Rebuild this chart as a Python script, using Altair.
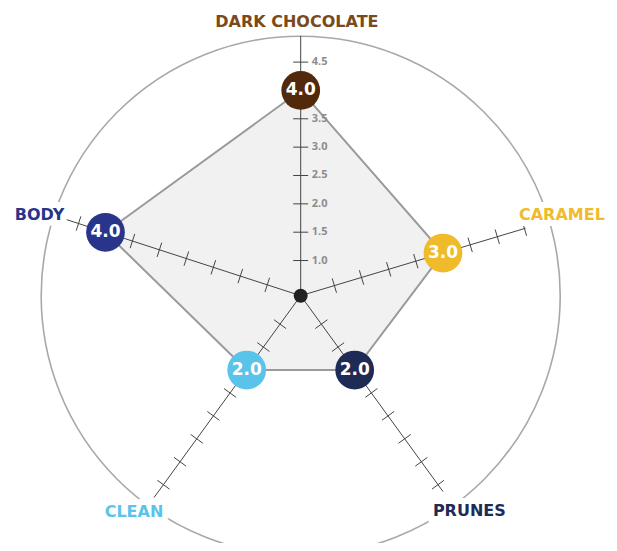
import math
import altair as alt
import pandas as pd

# ---- data ----
attributes = ["DARK CHOCOLATE", "CARAMEL", "PRUNES", "CLEAN", "BODY"]
scores = [4.0, 3.0, 2.0, 2.0, 4.0]
score_labels = ["4.0", "3.0", "2.0", "2.0", "4.0"]
angles_deg = [90, 16.7, -54, -126, 162]
label_angles_deg = [90.8, 17.1, -51.9, -127.6, 162.9]
axis_ends = [4.96, 4.52, 4.65, 4.78, 4.72]
tick_values = [1.0, 1.5, 2.0, 2.5, 3.0, 3.5, 4.0, 4.5]
tick_labels = ["1.0", "1.5", "2.0", "2.5", "3.0", "3.5", "", "4.5"]
dot_colors = ["#52290a", "#f0bb2b", "#1e2b55", "#5ac3ea", "#28358a"]
label_colors = ["#7a4a1b", "#f0bb2b", "#1e2b55", "#5ac3ea", "#28358a"]
label_value = 5.2
ring_value = 4.957

# ---- geometry / style ----
W, H = 601, 535
CX, CY = 292.7, 287.7   # centre in chart pixels
PX = 56.7               # pixels per unit
V0 = 0.38               # value at the centre
TICK_HALF = 7.5 / PX
FONT = "DejaVu Sans"
TICK_FONT = "Open Sans"

xdom = [-CX / PX, (W - CX) / PX]
ydom = [-(H - CY) / PX, CY / PX]
xs = alt.Scale(domain=xdom, nice=False, zero=False)
ys = alt.Scale(domain=ydom, nice=False, zero=False)


def pos(v, ang):
    r = v - V0
    a = math.radians(ang)
    return r * math.cos(a), r * math.sin(a)


# axes
axis_rows = []
for name, ang, end in zip(attributes, angles_deg, axis_ends):
    x2, y2 = pos(end, ang)
    axis_rows.append({"x": 0.0, "y": 0.0, "x2": x2, "y2": y2})
axes_df = pd.DataFrame(axis_rows)

# ticks
tick_rows = []
for ang in angles_deg:
    a = math.radians(ang)
    px_, py_ = -math.sin(a), math.cos(a)
    for tv in tick_values:
        cx, cy = pos(tv, ang)
        tick_rows.append({
            "x": cx - px_ * TICK_HALF, "y": cy - py_ * TICK_HALF,
            "x2": cx + px_ * TICK_HALF, "y2": cy + py_ * TICK_HALF,
        })
ticks_df = pd.DataFrame(tick_rows)

# tick labels on the vertical axis
tl_rows = []
for tv, tl in zip(tick_values, tick_labels):
    x, y = pos(tv, 90)
    tl_rows.append({"x": x, "y": y, "label": tl})
tl_df = pd.DataFrame(tl_rows)

# polygon
poly_rows = []
for i, (s, ang) in enumerate(zip(scores + [scores[0]], angles_deg + [angles_deg[0]])):
    x, y = pos(s, ang)
    poly_rows.append({"x": x, "y": y, "order": i})
poly_df = pd.DataFrame(poly_rows)

# dots
dot_rows = []
for s, sl, ang, c in zip(scores, score_labels, angles_deg, dot_colors):
    x, y = pos(s, ang)
    dot_rows.append({"x": x, "y": y, "label": sl, "color": c})
dot_df = pd.DataFrame(dot_rows)

# category labels
lab_rows = []
for name, ang, c in zip(attributes, label_angles_deg, label_colors):
    x, y = pos(label_value, ang)
    lab_rows.append({"x": x, "y": y, "label": name, "color": c})
lab_df = pd.DataFrame(lab_rows)

center_df = pd.DataFrame({"x": [0.0], "y": [0.0]})

X = lambda f="x": alt.X(f"{f}:Q", scale=xs, axis=None)
Y = lambda f="y": alt.Y(f"{f}:Q", scale=ys, axis=None)

ring = alt.Chart(center_df).mark_point(
    shape="circle", size=(2 * (ring_value - V0) * PX) ** 2, filled=False,
    stroke="#a8a8a8", strokeWidth=1.6, opacity=1,
).encode(x=X(), y=Y())

polygon = alt.Chart(poly_df).mark_line(
    fill="#f1f1f1", stroke="#9a9a9a", strokeWidth=2,
).encode(x=X(), y=Y(), order="order:Q")

axes = alt.Chart(axes_df).mark_rule(color="#444444", strokeWidth=1).encode(
    x=X(), y=Y(), x2="x2:Q", y2="y2:Q")

ticks = alt.Chart(ticks_df).mark_rule(color="#444444", strokeWidth=1).encode(
    x=X(), y=Y(), x2="x2:Q", y2="y2:Q")

tick_text = alt.Chart(tl_df).mark_text(
    align="left", baseline="middle", dx=11, fontSize=11, fontWeight="bold",
    font=TICK_FONT, color="#8c8c8c",
).encode(x=X(), y=Y(), text="label:N")

center = alt.Chart(center_df).mark_circle(size=196, color="#222222", opacity=1).encode(
    x=X(), y=Y())

dots = alt.Chart(dot_df).mark_circle(size=1500, opacity=1).encode(
    x=X(), y=Y(), color=alt.Color("color:N", scale=None))

dot_text = alt.Chart(dot_df).mark_text(
    color="white", fontSize=17, fontWeight="bold", font=FONT, baseline="middle",
    align="center",
).encode(x=X(), y=Y(), text="label:N")

label_halo = alt.Chart(lab_df).mark_text(
    fontSize=16, fontWeight="bold", font=FONT, baseline="middle", align="center",
    stroke="white", strokeWidth=12, color="white",
).encode(x=X(), y=Y(), text="label:N")

labels = alt.Chart(lab_df).mark_text(
    fontSize=16, fontWeight="bold", font=FONT, baseline="middle", align="center",
).encode(x=X(), y=Y(), text="label:N", color=alt.Color("color:N", scale=None))

chart = alt.layer(
    ring, polygon, axes, ticks, tick_text, center, dots, dot_text, label_halo, labels
).properties(
    width=W, height=H, padding=0, autosize="none", background="white"
).configure_view(stroke=None)

chart.save("out.html", embed_options={"renderer": "svg", "actions": False})
